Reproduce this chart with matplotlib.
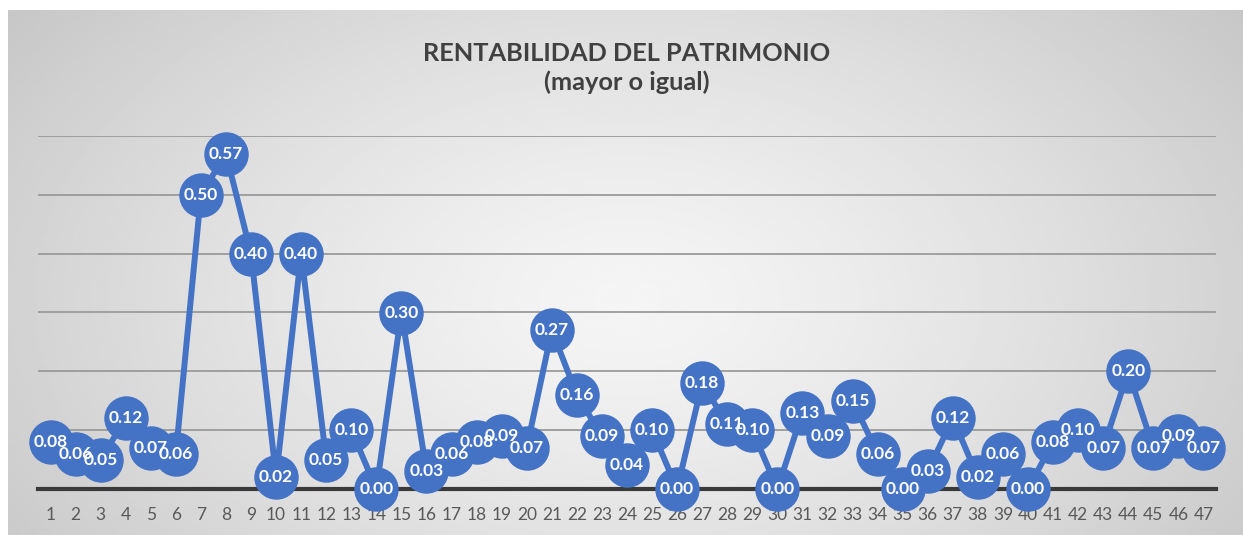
import numpy as np
import matplotlib
matplotlib.use("Agg")
import matplotlib.pyplot as plt

categories = [str(i) for i in range(1, 48)]
values = [0.08, 0.06, 0.05, 0.12, 0.07, 0.06, 0.50, 0.57, 0.40, 0.02,
          0.40, 0.05, 0.10, 0.00, 0.30, 0.03, 0.06, 0.08, 0.09, 0.07,
          0.27, 0.16, 0.09, 0.04, 0.10, 0.00, 0.18, 0.11, 0.10, 0.00,
          0.13, 0.09, 0.15, 0.06, 0.00, 0.03, 0.12, 0.02, 0.06, 0.00,
          0.08, 0.10, 0.07, 0.20, 0.07, 0.09, 0.07]
title = "RENTABILIDAD DEL PATRIMONIO\n(mayor o igual)"

W, H = 1243, 535
fig = plt.figure(figsize=(W / 100, H / 100), dpi=100)
fig.patch.set_facecolor("white")

# radial gradient background
bg = fig.add_axes([8 / W, 0, (W - 8) / W, (H - 10) / H])
yy, xx = np.mgrid[0:200, 0:400]
cx, cy = 200, 110
r = np.sqrt(((xx - cx) / 260.0) ** 2 + ((yy - cy) / 190.0) ** 2)
r = np.clip(r, 0, 1)
lo, hi = 0.96, 0.77
img = hi + (lo - hi) * (1 - r ** 1.3)
bg.imshow(img, cmap="gray", vmin=0, vmax=1, aspect="auto", extent=[0, 1, 0, 1])
bg.set_axis_off()

ax = fig.add_axes([38 / W, (H - 489) / H, (1216 - 38) / W, (489 - 136) / H])
ax.set_facecolor("none")
x = np.arange(len(categories))
ax.set_xlim(-0.5, len(categories) - 0.5)
ax.set_ylim(0, 0.6)
ax.set_yticks(np.arange(0.1, 0.61, 0.1))
ax.yaxis.grid(True, color="#9a9a9a", linewidth=1.3)
ax.set_axisbelow(True)
ax.tick_params(axis="y", left=False, labelleft=False)
ax.tick_params(axis="x", length=0, pad=13, labelsize=12.5, labelcolor="#595959")
ax.set_xticks(x)
ax.set_xticklabels(categories, fontfamily="Lato")
for s in ["top", "right", "left"]:
    ax.spines[s].set_visible(False)
ax.spines["bottom"].set_color("#3a3a3a")
ax.spines["bottom"].set_linewidth(3)
ax.spines["bottom"].set_zorder(2)

blue = "#4472C4"
ax.plot(x, values, color=blue, linewidth=4.3, zorder=3, clip_on=False,
        solid_capstyle="round", marker="o", markersize=32, markeredgewidth=0)
for i, v in enumerate(values):
    ax.text(x[i], v, f"{v:.2f}", color="white", fontsize=12.5, fontweight="bold",
            fontfamily="Lato", ha="center", va="center", zorder=10)

fig.text(627 / W, 1 - 68 / H, title, ha="center", va="center", fontsize=18.3,
         fontweight="bold", color="#404040", fontfamily="Lato", linespacing=1.3)

fig.savefig("out.png", dpi=100)
